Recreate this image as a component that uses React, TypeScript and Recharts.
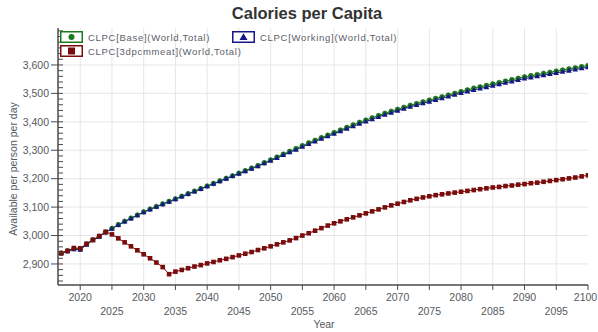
import React from 'react';
import { LineChart, Line, XAxis, YAxis, CartesianGrid } from 'recharts';

const years = [
  2017, 2018, 2019, 2020, 2021, 2022, 2023, 2024, 2025, 2026, 2027, 2028, 2029, 2030,
  2031, 2032, 2033, 2034, 2035, 2036, 2037, 2038, 2039, 2040, 2041, 2042, 2043, 2044,
  2045, 2046, 2047, 2048, 2049, 2050, 2051, 2052, 2053, 2054, 2055, 2056, 2057, 2058,
  2059, 2060, 2061, 2062, 2063, 2064, 2065, 2066, 2067, 2068, 2069, 2070, 2071, 2072,
  2073, 2074, 2075, 2076, 2077, 2078, 2079, 2080, 2081, 2082, 2083, 2084, 2085, 2086,
  2087, 2088, 2089, 2090, 2091, 2092, 2093, 2094, 2095, 2096, 2097, 2098, 2099, 2100,
];

// CLPC[Base](World,Total)
const baseKcal = [
  2938, 2946, 2954, 2952, 2970, 2985, 2997, 3012,
  3025, 3038, 3050, 3061, 3072, 3083, 3093, 3102, 3111, 3120,
  3129, 3138, 3147, 3156, 3165, 3174, 3183, 3192, 3201, 3210,
  3219, 3228, 3237, 3246, 3256, 3266, 3276, 3286, 3296, 3306,
  3316, 3326, 3335, 3344, 3353, 3362, 3371, 3380, 3389, 3398,
  3406, 3414, 3422, 3430, 3437, 3444, 3451, 3458, 3464, 3470,
  3476, 3482, 3488, 3494, 3500, 3506, 3512, 3518, 3523, 3528,
  3533, 3538, 3543, 3548, 3553, 3558, 3562, 3566, 3570, 3574,
  3578, 3582, 3586, 3590, 3594, 3598,
];

// CLPC[Working](World,Total)
const workingKcal = [
  2938, 2945, 2952, 2950, 2968, 2983, 2996, 3011,
  3024, 3037, 3049, 3060, 3071, 3082, 3092, 3101, 3110, 3119,
  3128, 3137, 3146, 3155, 3164, 3173, 3182, 3191, 3200, 3209,
  3217, 3226, 3235, 3244, 3254, 3263, 3273, 3283, 3293, 3302,
  3312, 3322, 3331, 3340, 3349, 3358, 3367, 3376, 3384, 3393,
  3401, 3409, 3417, 3425, 3432, 3439, 3446, 3453, 3459, 3465,
  3471, 3477, 3483, 3489, 3495, 3501, 3507, 3512, 3517, 3522,
  3527, 3532, 3537, 3542, 3547, 3552, 3556, 3560, 3564, 3568,
  3572, 3576, 3580, 3584, 3588, 3592,
];

// CLPC[3dpcmmeat](World,Total)
const meatKcal = [
  2938, 2946, 2956, 2955, 2971, 2985, 2998, 3013,
  3004, 2990, 2976, 2962, 2948, 2934, 2920, 2905, 2889, 2864,
  2873, 2879, 2885, 2891, 2896, 2902, 2907, 2913, 2918, 2924,
  2930, 2936, 2942, 2949, 2955, 2962, 2969, 2976, 2983, 2991,
  3000, 3008, 3017, 3026, 3035, 3043, 3050, 3057, 3064, 3071,
  3078, 3085, 3092, 3099, 3106, 3112, 3118, 3124, 3129, 3134,
  3138, 3142, 3145, 3148, 3151, 3154, 3157, 3160, 3163, 3166,
  3169, 3171, 3174, 3176, 3179, 3181, 3184, 3186, 3189, 3192,
  3195, 3198, 3201, 3204, 3208, 3212,
];

const xTicks = [
  2020, 2025, 2030, 2035, 2040, 2045, 2050, 2055, 2060, 2065, 2070, 2075, 2080, 2085,
  2090, 2095, 2100,
];
const xGrid = [
  2020, 2025, 2030, 2035, 2040, 2045, 2050, 2055, 2060, 2065, 2070, 2075, 2080, 2085,
  2090, 2095,
];
// minor ticks every 20
const yTicks = [
  2840, 2860, 2880, 2900, 2920, 2940, 2960, 2980, 3000, 3020, 3040, 3060, 3080, 3100,
  3120, 3140, 3160, 3180, 3200, 3220, 3240, 3260, 3280, 3300, 3320, 3340, 3360, 3380,
  3400, 3420, 3440, 3460, 3480, 3500, 3520, 3540, 3560, 3580, 3600, 3620, 3640, 3660,
  3680, 3700, 3720,
];
// labelled ticks and grid lines
const yLabels = [2900, 3000, 3100, 3200, 3300, 3400, 3500, 3600];

const data = years.map((year, i) => ({
  year,
  base: baseKcal[i],
  working: workingKcal[i],
  meat: meatKcal[i],
}));

const FONT = '"Liberation Sans", Arial, sans-serif';
const GREEN = '#1c7a1c';
const BLUE = '#16168a';
const RED = '#7a0c0c';
const AXIS = '#4a4a4a';
const TEXT = '#555a62';
const LAST_YEAR = 2100;

const YTick = (props: any) => {
  const { x, y, payload } = props;
  const v = payload.value as number;
  const major = yLabels.includes(v);
  return (
    <g>
      <line x1={major ? x - 7 : x} x2={x + 5} y1={y} y2={y} stroke={AXIS} strokeWidth={1} />
      {major && (
        <text x={x - 9} y={y} dy={3.7} textAnchor="end" fontSize={10.5} fill={TEXT} fontFamily={FONT}>
          {v.toLocaleString('en-US')}
        </text>
      )}
    </g>
  );
};

const XTick = (props: any) => {
  const { x, y, payload } = props;
  const v = payload.value as number;
  const lower = v % 10 !== 0;
  // keep the last label inside the canvas
  const shift = v === LAST_YEAR ? -2.5 : 0;
  return (
    <g>
      <line x1={x} x2={x} y1={y} y2={y + 5} stroke={AXIS} strokeWidth={1} />
      <text
        x={x + shift}
        y={y + (lower ? 29.8 : 15.8)}
        textAnchor="middle"
        fontSize={10.5}
        fill={TEXT}
        fontFamily={FONT}
      >
        {v}
      </text>
    </g>
  );
};

const CircleDot = (props: any) => {
  const { cx, cy } = props;
  if (cx == null || cy == null) return <g />;
  return <circle cx={cx} cy={cy} r={2.4} fill={GREEN} stroke="#0e5a0e" strokeWidth={0.5} />;
};

const TriangleDot = (props: any) => {
  const { cx, cy } = props;
  if (cx == null || cy == null) return <g />;
  return (
    <polygon
      points={`${cx},${cy - 2.8} ${cx - 2.8},${cy + 2} ${cx + 2.8},${cy + 2}`}
      fill={BLUE}
    />
  );
};

const SquareDot = (props: any) => {
  const { cx, cy } = props;
  if (cx == null || cy == null) return <g />;
  return <rect x={cx - 2.3} y={cy - 2.3} width={4.6} height={4.6} fill={RED} />;
};

const LegendKey = ({ color, children }: { color: string; children: React.ReactNode }) => (
  <svg width={23} height={12} style={{ display: 'block' }}>
    <rect x={0.75} y={0.75} width={21.5} height={10.5} fill="#fff" stroke={color} strokeWidth={1.5} />
    {children}
  </svg>
);

const legendText: React.CSSProperties = {
  fontFamily: FONT,
  fontSize: 9.5,
  color: '#5c6068',
  letterSpacing: 0.7,
  marginLeft: 5,
  whiteSpace: 'nowrap',
};

export default function App() {
  return (
    <div style={{ position: 'absolute', left: 0, top: 0, width: 598, height: 332, background: '#fff' }}>
      <div
        style={{
          position: 'absolute',
          left: 0,
          width: 614,
          top: 4,
          textAlign: 'center',
          fontFamily: FONT,
          fontWeight: 'bold',
          fontSize: 16.5,
          color: '#333',
        }}
      >
        Calories per Capita
      </div>

      <LineChart
        width={598}
        height={332}
        data={data}
        margin={{ top: 28, right: 10, left: 0, bottom: 0 }}
      >
        <CartesianGrid
          stroke="#e6e6e6"
          strokeWidth={1}
          horizontalValues={yLabels}
          verticalValues={xGrid}
        />
        <XAxis
          dataKey="year"
          type="number"
          domain={[2016.5, 2100]}
          ticks={xTicks}
          interval={0}
          height={47}
          tickSize={0}
          tickMargin={0}
          tickLine={false}
          tick={<XTick />}
          axisLine={{ stroke: AXIS, strokeWidth: 1.5 }}
          allowDataOverflow
        />
        <XAxis
          xAxisId="frame"
          dataKey="year"
          type="number"
          domain={[2016.5, 2100]}
          orientation="top"
          height={0}
          tick={false}
          tickLine={false}
          axisLine={{ stroke: '#9a9a9a', strokeWidth: 2 }}
        />
        <YAxis
          type="number"
          domain={[2826, 3730]}
          ticks={yTicks}
          interval={0}
          width={58}
          tickSize={0}
          tickMargin={0}
          tickLine={false}
          tick={<YTick />}
          axisLine={{ stroke: AXIS, strokeWidth: 1.5 }}
          allowDataOverflow
        />
        <YAxis
          yAxisId="frame"
          type="number"
          domain={[2826, 3730]}
          orientation="right"
          width={0}
          tick={false}
          tickLine={false}
          axisLine={{ stroke: '#9a9a9a', strokeWidth: 2 }}
        />
        <Line
          dataKey="base"
          stroke={GREEN}
          strokeWidth={1}
          dot={<CircleDot />}
          isAnimationActive={false}
        />
        <Line
          dataKey="working"
          stroke={BLUE}
          strokeWidth={1}
          dot={<TriangleDot />}
          isAnimationActive={false}
        />
        <Line
          dataKey="meat"
          stroke={RED}
          strokeWidth={1}
          dot={<SquareDot />}
          isAnimationActive={false}
        />
      </LineChart>

      <div style={{ position: 'absolute', left: 60, top: 31, display: 'flex', alignItems: 'center' }}>
        <LegendKey color={GREEN}>
          <circle cx={11.5} cy={6} r={3} fill={GREEN} />
        </LegendKey>
        <span style={legendText}>CLPC[Base](World,Total)</span>
      </div>
      <div style={{ position: 'absolute', left: 232, top: 31, display: 'flex', alignItems: 'center' }}>
        <LegendKey color={BLUE}>
          <polygon points="11.5,2.2 7.5,9 15.5,9" fill={BLUE} />
        </LegendKey>
        <span style={legendText}>CLPC[Working](World,Total)</span>
      </div>
      <div style={{ position: 'absolute', left: 60, top: 45, display: 'flex', alignItems: 'center' }}>
        <LegendKey color={RED}>
          <rect x={8} y={2.5} width={7} height={7} fill={RED} />
        </LegendKey>
        <span style={legendText}>CLPC[3dpcmmeat](World,Total)</span>
      </div>

      <div
        style={{
          position: 'absolute',
          left: 13,
          top: 169,
          transform: 'translate(-50%, -50%) rotate(-90deg)',
          fontFamily: FONT,
          fontSize: 10.5,
          color: TEXT,
          whiteSpace: 'nowrap',
        }}
      >
        Available per person per day
      </div>
      <div
        style={{
          position: 'absolute',
          left: 324,
          top: 324,
          transform: 'translate(-50%, -50%)',
          fontFamily: FONT,
          fontSize: 10.5,
          color: TEXT,
        }}
      >
        Year
      </div>
    </div>
  );
}
